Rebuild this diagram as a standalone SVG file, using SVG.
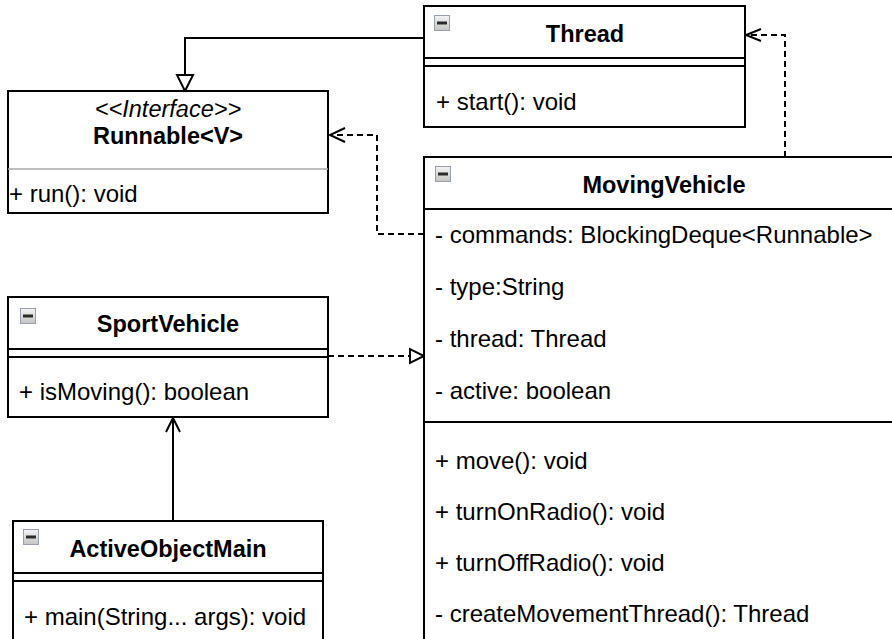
<svg xmlns="http://www.w3.org/2000/svg" width="892" height="639" viewBox="0 0 892 639">
<defs>
<linearGradient id="ig" x1="0" y1="0" x2="0" y2="1">
<stop offset="0" stop-color="#f4f4f4"/>
<stop offset="1" stop-color="#c4c4c4"/>
</linearGradient>
<g id="icon">
<rect x="0.5" y="0.5" width="15" height="15" fill="url(#ig)" stroke="#98a0b2" stroke-width="1"/>
<rect x="3" y="6.5" width="10" height="3" fill="#2a2a2a"/>
</g>
</defs>
<style>
text{font-family:"Liberation Sans",Arial,Helvetica,sans-serif;font-size:24px;fill:#000}
.t{font-weight:bold;text-anchor:middle;font-size:23.5px}
.i{font-style:italic;text-anchor:middle;font-size:23.5px}
.box{fill:#fff;stroke:#000;stroke-width:2}
.ln{stroke:#000;stroke-width:2;fill:none}
.dl{stroke:#000;stroke-width:2;fill:none;stroke-dasharray:6 4}
.ah{stroke:#000;stroke-width:2;fill:none}
.tri{stroke:#000;stroke-width:2;fill:#fff}
</style>
<rect width="892" height="639" fill="#fff"/>

<g id="connectors">
<polyline class="ln" points="424,38 185,38 185,75"/>
<polygon class="tri" points="177,75 193,75 185,91"/>
<polyline class="dl" points="785,157 785,35 747,35"/>
<polyline class="ah" points="761,29 746,35 761,41"/>
<polyline class="dl" points="424,234 377,234 377,135 331,135"/>
<polyline class="ah" points="345,128 330,135 345,142"/>
<line class="dl" x1="328" y1="356" x2="410" y2="356"/>
<polygon class="tri" points="410,349 410,363 424,356"/>
<line class="ln" x1="173" y1="521" x2="173" y2="419"/>
<polyline class="ah" points="166,432 173,418 180,432"/>
</g>

<g id="Thread">
<rect class="box" x="424" y="6" width="321" height="121"/>
<line class="ln" x1="424" y1="58" x2="745" y2="58"/>
<line class="ln" x1="424" y1="66" x2="745" y2="66"/>
<use href="#icon" x="434" y="15"/>
<text class="t" x="585" y="42">Thread</text>
<text x="436" y="110">+ start(): void</text>
</g>

<g id="Runnable">
<rect class="box" x="8" y="91" width="320" height="122"/>
<line x1="8" y1="169" x2="328" y2="169" stroke="#a8a8a8" stroke-width="1.5"/>
<text class="i" x="168" y="117">&lt;&lt;Interface&gt;&gt;</text>
<text class="t" x="168" y="144">Runnable&lt;V&gt;</text>
<text x="9" y="202">+ run(): void</text>
</g>

<g id="MovingVehicle">
<rect class="box" x="424" y="157" width="480" height="490"/>
<line class="ln" x1="424" y1="209" x2="904" y2="209"/>
<line class="ln" x1="424" y1="422" x2="904" y2="422"/>
<use href="#icon" x="435" y="166"/>
<text class="t" x="664" y="193">MovingVehicle</text>
<text x="435" y="243">- commands: BlockingDeque&lt;Runnable&gt;</text>
<text x="435" y="295">- type:String</text>
<text x="435" y="347">- thread: Thread</text>
<text x="435" y="399">- active: boolean</text>
<text x="435" y="469">+ move(): void</text>
<text x="435" y="520">+ turnOnRadio(): void</text>
<text x="435" y="571">+ turnOffRadio(): void</text>
<text x="435" y="622">- createMovementThread(): Thread</text>
</g>

<g id="SportVehicle">
<rect class="box" x="8" y="297" width="320" height="120"/>
<line class="ln" x1="8" y1="349" x2="328" y2="349"/>
<line class="ln" x1="8" y1="357" x2="328" y2="357"/>
<use href="#icon" x="20" y="308"/>
<text class="t" x="168" y="332">SportVehicle</text>
<text x="19" y="400">+ isMoving(): boolean</text>
</g>

<g id="ActiveObjectMain">
<rect class="box" x="13" y="521" width="310" height="130"/>
<line class="ln" x1="13" y1="573" x2="323" y2="573"/>
<line class="ln" x1="13" y1="581" x2="323" y2="581"/>
<use href="#icon" x="23" y="529"/>
<text class="t" x="168" y="557">ActiveObjectMain</text>
<text x="24" y="625">+ main(String... args): void</text>
</g>
</svg>
